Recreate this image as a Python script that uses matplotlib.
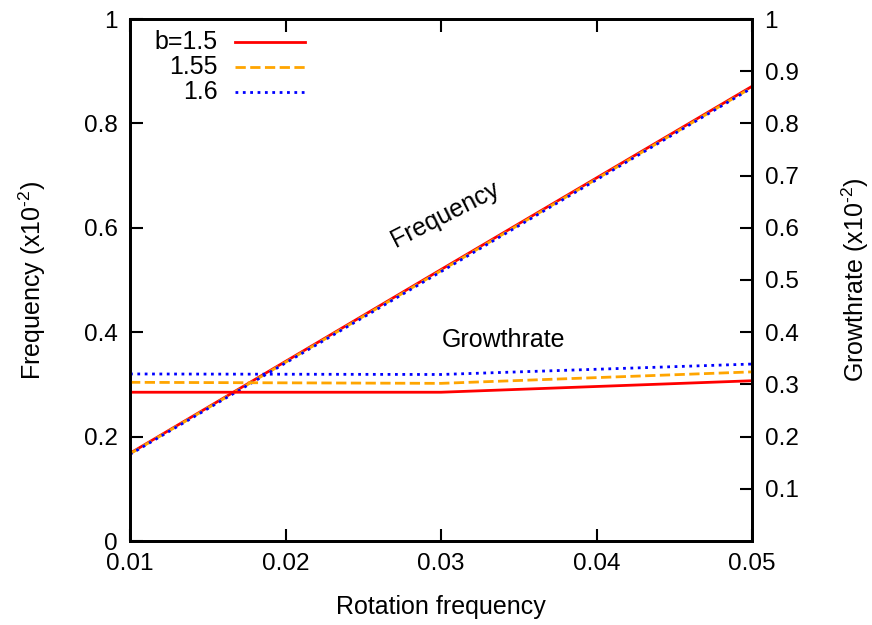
import matplotlib.pyplot as plt
from matplotlib.lines import Line2D

plt.rcParams['font.family'] = ['Liberation Sans', 'DejaVu Sans']
plt.rcParams['mathtext.default'] = 'regular'

# rotation frequency
rot = [0.01, 0.03, 0.05]

# frequency (x1e-2) for each b
freq_b150 = [0.168, 0.520, 0.871]
freq_b155 = [0.167, 0.518, 0.869]
freq_b160 = [0.166, 0.516, 0.868]

# growthrate (x1e-2) for each b
grow_b150 = [0.285, 0.285, 0.307]
grow_b155 = [0.304, 0.302, 0.324]
grow_b160 = [0.320, 0.319, 0.339]

labels = ['b=1.5', '1.55', '1.6']
colors = ['#ff0000', '#ffa500', '#0000ff']
styles = ['-', '--', ':']

FS = 18
TFS = 17.5

fig = plt.figure(figsize=(8.72, 6.25), dpi=100)
ax = fig.add_axes([130 / 872, 84 / 625, 622 / 872, 522 / 625])
ax2 = ax.twinx()

freqs = [freq_b150, freq_b155, freq_b160]
grows = [grow_b150, grow_b155, grow_b160]
for f, g, c, ls in zip(freqs, grows, colors, styles):
    ax.plot(rot, f, color=c, linestyle=ls, linewidth=2)
    ax2.plot(rot, g, color=c, linestyle=ls, linewidth=2)

ax.set_xlim(0.01, 0.05)
ax.set_ylim(0, 1)
ax2.set_ylim(0, 1)
ax.set_xticks([0.01, 0.02, 0.03, 0.04, 0.05])
ax.set_yticks([0, 0.2, 0.4, 0.6, 0.8, 1])
ax.set_yticklabels(['0', '0.2', '0.4', '0.6', '0.8', '1'])
ax2.set_yticks([0.1, 0.2, 0.3, 0.4, 0.5, 0.6, 0.7, 0.8, 0.9, 1])
ax2.set_yticklabels(['0.1', '0.2', '0.3', '0.4', '0.5', '0.6', '0.7', '0.8', '0.9', '1'])

ax.tick_params(axis='x', direction='in', top=True, length=9, width=1.5,
               labelsize=TFS, pad=9)
ax.tick_params(axis='y', direction='in', length=9, width=1.5, labelsize=TFS, pad=9)
ax2.tick_params(axis='y', direction='in', length=9, width=1.5, labelsize=TFS, pad=9)
for a in (ax, ax2):
    for s in a.spines.values():
        s.set_linewidth(2)

ax.set_xlabel('Rotation frequency', fontsize=FS, labelpad=14)
ax.set_ylabel('Frequency (x10$^{\u2010 2}$)', fontsize=FS, labelpad=26)
ax2.set_ylabel('Growthrate (x10$^{\u2010 2}$)', fontsize=FS, rotation=90, labelpad=30)

ax.text(0.0303, 0.625, 'Frequency', fontsize=FS, rotation=27, ha='center', va='center')
ax.text(0.034, 0.385, 'Growthrate', fontsize=FS, ha='center', va='center')

# legend: labels right-aligned, sample line to the right
leg_y = [0.956, 0.908, 0.860]
for lab, c, ls, yy in zip(labels, colors, styles, leg_y):
    ax.text(0.1415, yy, lab, fontsize=FS, ha='right', va='center',
            transform=ax.transAxes)
    ax.add_line(Line2D([0.169, 0.281], [yy, yy], color=c, linestyle=ls,
                       linewidth=2, transform=ax.transAxes))

fig.savefig('out.png', dpi=100)
